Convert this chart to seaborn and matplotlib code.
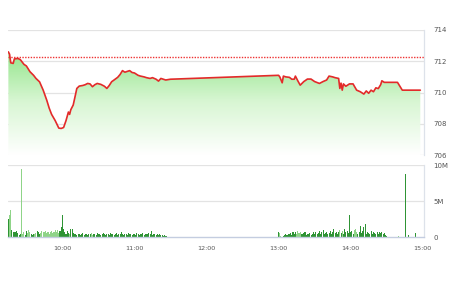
import matplotlib
matplotlib.use("Agg")
import matplotlib.pyplot as plt
import seaborn as sns
import numpy as np
import pandas as pd
from matplotlib.colors import LinearSegmentedColormap
from matplotlib.patches import Polygon

# ---------------- data ----------------
price_times = ["09:15","09:16","09:17","09:19","09:20","09:23","09:25","09:28","09:30","09:33",
               "09:36","09:38","09:41","09:44","09:47","09:49","09:51","09:54","09:57","09:59",
               "10:01","10:03","10:05","10:06","10:07","10:09","10:11","10:12","10:14","10:17",
               "10:19","10:21","10:23","10:25","10:27","10:29","10:32","10:35","10:37","10:39",
               "10:41","10:43","10:46","10:48","10:50","10:52","10:54","10:56","10:58","11:00",
               "11:03","11:05","11:08","11:10","11:13","11:15","11:18","11:20","11:22","11:24",
               "11:26","11:30","13:00","13:01","13:03","13:04","13:06","13:09","13:11","13:13",
               "13:14","13:16","13:18","13:21","13:24","13:27","13:30","13:34","13:37","13:40",
               "13:42","13:45","13:47","13:50","13:51","13:52","13:53","13:54","13:56","13:59",
               "14:02","14:05","14:08","14:11","14:13","14:15","14:17","14:19","14:21","14:23",
               "14:25","14:26","14:28","14:39","14:43","14:58"]
price_values = [712.60,712.45,711.90,711.86,712.15,712.18,712.10,711.80,711.70,711.33,
                711.10,710.90,710.68,710.15,709.50,709.00,708.60,708.20,707.72,707.70,
                707.76,708.20,708.75,708.60,708.90,709.20,709.90,710.26,710.41,710.45,
                710.50,710.58,710.55,710.37,710.50,710.58,710.52,710.40,710.26,710.45,
                710.69,710.80,710.97,711.15,711.40,711.30,711.35,711.40,711.28,711.25,
                711.10,711.05,711.00,710.95,710.90,710.95,710.85,710.73,710.90,710.85,
                710.80,710.85,711.10,711.00,710.62,711.05,711.00,710.97,710.85,710.85,
                711.05,710.75,710.47,710.70,710.86,710.86,710.70,710.58,710.70,710.80,
                711.05,711.00,710.95,710.90,710.26,710.60,710.15,710.55,710.40,710.55,
                710.55,710.15,710.05,709.90,710.10,709.95,710.15,710.05,710.30,710.25,
                710.50,710.75,710.65,710.65,710.15,710.15]
ref_price = 712.25

price_ticks = [706, 708, 710, 712, 714]
vol_ticks = [0, 5, 10]
vol_tick_labels = ["0", "5M", "10M"]
time_tick_labels = ["10:00", "11:00", "12:00", "13:00", "14:00", "15:00"]

# volume in millions, one value per minute
morning_start = "09:15"
morning_vol = [2.5, 3.1, 3.8, 1.0, 0.8, 0.8, 0.7, 0.9, 0.6, 0.3,
               0.4, 9.4, 0.5, 0.8, 0.3, 0.9, 0.6, 1.0, 0.7, 0.4,
               0.3, 0.5, 0.4, 0.6, 0.9, 0.8, 0.5, 0.6, 0.9, 0.8,
               0.7, 0.9, 0.6, 0.8, 0.5, 0.7, 0.9, 0.6, 0.8, 1.0,
               0.7, 1.0, 0.6, 0.9, 1.4, 3.1, 1.2, 0.8, 0.5, 0.9,
               0.6, 0.4, 1.2, 1.1, 0.6, 0.4, 0.5, 0.3, 0.4, 0.5,
               0.3, 0.4, 0.6, 0.3, 0.5, 0.4, 0.3, 0.5, 0.4, 0.6,
               0.3, 0.5, 0.4, 0.3, 0.6, 0.4, 0.5, 0.3, 0.4, 0.6,
               0.5, 0.3, 0.4, 0.5, 0.3, 0.6, 0.4, 0.5, 0.3, 0.4,
               0.6, 0.3, 0.4, 0.5, 0.7, 0.4, 0.3, 0.5, 0.4, 0.3,
               0.6, 0.4, 0.5, 0.3, 0.4, 0.5, 0.3, 0.6, 0.4, 0.3,
               0.5, 0.4, 0.6, 0.3, 0.4, 0.5, 0.5, 0.6, 0.4, 0.9,
               0.3, 0.4, 0.5, 0.3, 0.4, 0.3, 0.4, 0.3, 0.3, 0.2,
               0.3, 0.2, 0.2, 0.1, 0.1, 0.1]
afternoon_start = "13:00"
afternoon_vol = [0.7, 0.6, 0.2, 0.1, 0.2, 0.3, 0.4, 0.3, 0.5, 0.4,
                 0.6, 0.3, 0.7, 0.5, 0.8, 0.4, 0.9, 0.6, 0.7, 0.5,
                 0.4, 0.6, 0.8, 0.3, 0.5, 0.4, 0.6, 0.3, 0.5, 0.7,
                 0.4, 0.8, 0.5, 0.6, 0.9, 0.4, 0.7, 1.0, 0.5, 0.6,
                 0.8, 0.4, 0.6, 0.9, 0.5, 0.7, 1.1, 0.6, 0.8, 0.5,
                 0.7, 1.0, 0.6, 0.9, 0.5, 1.2, 0.7, 0.9, 0.6, 3.1,
                 0.8, 0.9, 0.5, 1.0, 1.2, 0.7, 0.5, 0.8, 1.6, 0.6,
                 0.9, 1.4, 1.8, 0.5, 0.7, 0.6, 0.5, 0.9, 0.4, 0.8,
                 0.6, 0.5, 0.7, 0.4, 0.8, 0.6, 0.7, 0.5, 0.6, 0.3,
                 0.2]
late_times = ["14:35", "14:40", "14:43", "14:46", "14:48", "14:54"]
late_vol = [0.1, 0.2, 0.1, 8.8, 0.3, 0.6]


def to_h(s):
    h, m = s.split(":")
    return int(h) + int(m) / 60.0


# ---------------- build frames ----------------
px = np.array([to_h(t) for t in price_times])
py = np.array(price_values)
price_df = pd.DataFrame({"t": px, "price": py})

vt = [to_h(morning_start) + i / 60.0 for i in range(len(morning_vol))]
vt += [to_h(afternoon_start) + i / 60.0 for i in range(len(afternoon_vol))]
vt += [to_h(t) for t in late_times]
vv = list(morning_vol) + list(afternoon_vol) + list(late_vol)
vol_df = pd.DataFrame({"t": vt, "vol": vv})
# colour by price direction over that minute
p_now = np.interp(vol_df["t"], px, py)
p_prev = np.interp(vol_df["t"] - 1 / 60.0, px, py)
vol_df["up"] = p_now >= p_prev - 0.08

# ---------------- figure ----------------
sns.set_style("white")
plt.rcParams["font.family"] = ["DejaVu Sans"]

W, H = 450, 281
fig = plt.figure(figsize=(W / 100, H / 100), dpi=100)
L, R = 8, 424
ax1 = fig.add_axes([L / W, 1 - 155 / H, (R - L) / W, 125 / H])
ax2 = fig.add_axes([L / W, 1 - 237.3 / H, (R - L) / W, 72.3 / H])

xlim = (9.245, 15.018)
grid_c = "#e3e3e3"
lab_c = "#555555"

# --- price panel ---
for v in price_ticks:
    ax1.axhline(v, color=grid_c, lw=0.9, zorder=0)
verts = np.vstack([np.column_stack([px, py]),
                   [[px[-1], 706], [px[0], 706]]])
clip_poly = Polygon(verts, closed=True, facecolor="none", edgecolor="none",
                    transform=ax1.transData)
ax1.add_patch(clip_poly)
cmap = LinearSegmentedColormap.from_list("g", ["#ffffff", "#d8f6d3", "#8fe486"])
grad = np.linspace(0, 1, 256).reshape(-1, 1)
img = ax1.imshow(grad, cmap=cmap, origin="lower", aspect="auto",
                 extent=[xlim[0], xlim[1], 706, 712.8], zorder=1)
img.set_clip_path(clip_poly)
ax1.axhline(ref_price, color="#ee3333", lw=1.0, ls=(0, (1, 1)), zorder=3)
sns.lineplot(data=price_df, x="t", y="price", ax=ax1, color="#e32a2a",
             lw=1.2, sort=True, zorder=4)
ax1.set_xlim(*xlim)
ax1.set_ylim(706, 714)
ax1.set_xticks([])
ax1.set_yticks(price_ticks)
ax1.yaxis.tick_right()
ax1.tick_params(axis="y", length=0, pad=6.5, labelsize=5, labelcolor=lab_c)
ax1.set_xlabel("")
ax1.set_ylabel("")
for s in ["left", "top", "bottom"]:
    ax1.spines[s].set_visible(False)
ax1.spines["right"].set_color("#dde2ea")
ax1.spines["right"].set_linewidth(0.9)

# --- volume panel ---
for v in vol_ticks[1:]:
    ax2.axhline(v, color=grid_c, lw=0.9, zorder=0)
cols = np.where(vol_df["up"], "#2f9435", "#8fd488")
ax2.bar(vol_df["t"], vol_df["vol"], width=0.85 / 60, color=cols, lw=0, zorder=2)
ax2.set_xlim(*xlim)
ax2.set_ylim(0, 10)
ax2.set_yticks(vol_ticks)
ax2.set_yticklabels(vol_tick_labels)
ax2.yaxis.tick_right()
ax2.tick_params(axis="y", length=0, pad=6.5, labelsize=5, labelcolor=lab_c)
ax2.set_xticks([to_h(t) for t in time_tick_labels])
ax2.set_xticklabels(time_tick_labels)
ax2.tick_params(axis="x", length=3, width=0.8, color="#c4cde0", pad=3,
                labelsize=4.6, labelcolor=lab_c)
for s in ["left", "top"]:
    ax2.spines[s].set_visible(False)
ax2.spines["bottom"].set_color("#c4cde0")
ax2.spines["bottom"].set_linewidth(1.0)
ax2.spines["right"].set_color("#dde2ea")
ax2.spines["right"].set_linewidth(0.9)
ax2.set_xlabel("")
ax2.set_ylabel("")

fig.savefig("out.png", dpi=100)
